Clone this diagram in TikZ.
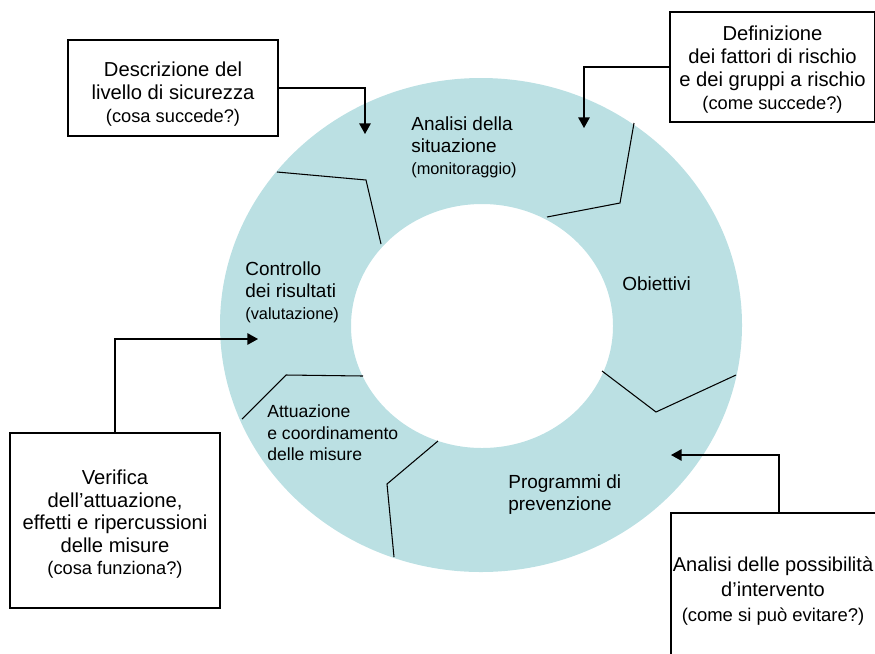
\documentclass[tikz,border=0pt]{standalone}
\usepackage{fontspec}
\setmainfont{Liberation Sans}
\usetikzlibrary{arrows.meta}
\definecolor{ringblue}{RGB}{187,224,227}
\newcommand{\px}{0.02cm}
\newcommand{\boxfont}{\fontsize{11.5}{13}\selectfont}
\newcommand{\boxsmall}{\fontsize{10.4}{13}\selectfont}
\newcommand{\ringfont}{\fontsize{10.8}{12.5}\selectfont}
\newcommand{\ringsmall}{\fontsize{9.3}{12.5}\selectfont}
\tikzset{
	infobox/.style={draw, line width=0.7pt, fill=white, inner sep=0pt},
	boxtext/.style={align=center, inner sep=0pt, font=\boxfont},
	ringlabel/.style={anchor=west, align=left, inner sep=0pt, font=\ringfont},
	divider/.style={line width=0.6pt},
	feed/.style={-{Triangle[length=6pt,width=6.5pt]}, line width=0.7pt}
}

\begin{document}
\begin{tikzpicture}[x=\px, y=-\px, line join=miter]
    \useasboundingbox (0,0) rectangle (875,653);
    \clip (0,0) rectangle (875,653);

    % ring
    \fill[ringblue, even odd rule] (481,325) ellipse [x radius=261, y radius=247]
                                   (482,326) ellipse [x radius=131, y radius=122];

    \draw[divider] (277,172) -- (366,180) -- (381,244);
    \draw[divider] (634,123) -- (620,203) -- (547,217);
    \draw[divider] (602,371) -- (656,412) -- (736,375);
    \draw[divider] (438,441) -- (387,484) -- (394,557);
    \draw[divider] (363,376) -- (286,375) -- (242,419);

    \node[ringlabel] (analisi)    at (411,147) {Analisi della\\situazione\\{\ringsmall (monitoraggio)}};
    \node[ringlabel] (obiettivi)  at (622,284) {Obiettivi};
    \node[ringlabel] (programmi)  at (508,495) {Programmi di\\prevenzione};
    \node[ringlabel, font=\fontsize{10}{12.2}\selectfont] (attuazione) at (267,433) {Attuazione\\e coordinamento\\delle misure};
    \node[ringlabel] (controllo)  at (245,292) {Controllo\\dei risultati\\{\ringsmall (valutazione)}};

    % boxes
    \node[infobox, minimum width=210*\px, minimum height=96*\px]  (desc)     at (173,88) {};
    \node[infobox, minimum width=205*\px, minimum height=110*\px] (fattori)  at (772.5,67) {};
    \node[infobox, minimum width=210*\px, minimum height=175*\px] (verifica) at (115,520.5) {};
    \node[infobox, minimum width=206*\px, minimum height=150*\px] (possib)   at (774,588) {};

    \node[boxtext] (descText)     at (173,94)    {Descrizione del\\livello di sicurezza\\{\boxsmall (cosa succede?)}};
    \node[boxtext] (fattoriText)  at (772.5,69.5) {Definizione\\dei fattori di rischio\\e dei gruppi a rischio\\{\boxsmall (come succede?)}};
    \node[boxtext, font=\fontsize{11.5}{12.8}\selectfont] (verificaText) at (115,524.5)
        {Verifica\\dell’attuazione,\\effetti e ripercussioni\\delle misure\\{\boxsmall (cosa funziona?)}};
    \node[boxtext, font=\fontsize{11.4}{14.3}\selectfont] (possibText) at (773,591)
        {Analisi delle possibilità\\d’intervento\\{\fontsize{10.5}{14.3}\selectfont (come si può evitare?)}};

    \coordinate (tipA) at (365,134);
    \coordinate (tipB) at (584,128);
    \coordinate (tipC) at (258,339);
    \coordinate (tipD) at (671,455);

    \draw[feed] (desc.east) -| (tipA);
    \draw[feed] (fattori.west) -| (tipB);
    \draw[feed] (verifica.north) |- (tipC);
    \draw[feed] ([xshift=5*\px]possib.north) |- (tipD);
\end{tikzpicture}
\end{document}
